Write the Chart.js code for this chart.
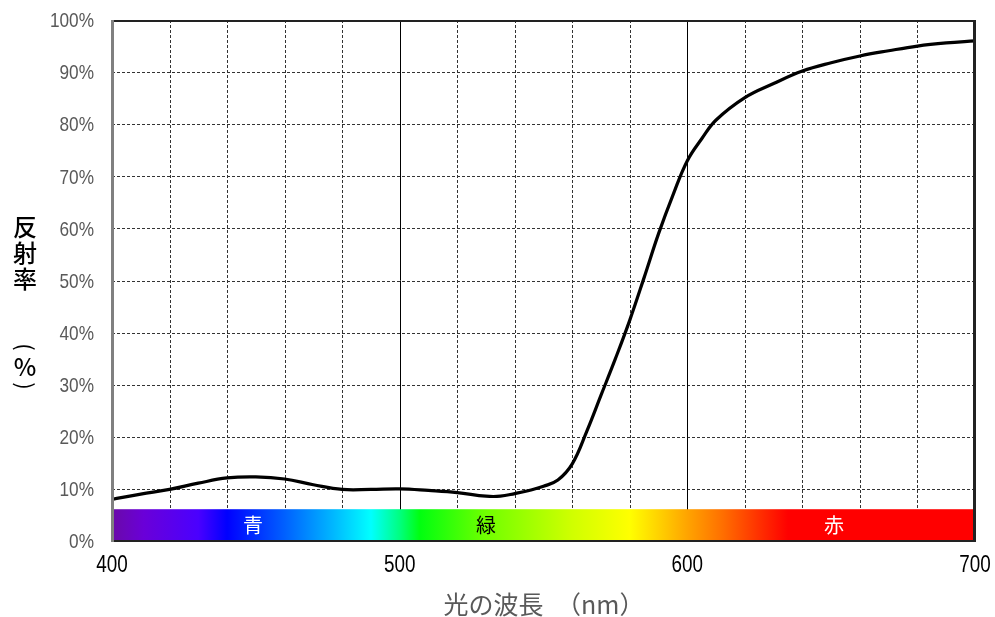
<!DOCTYPE html>
<html>
<head>
<meta charset="utf-8">
<script src="https://cdn.jsdelivr.net/npm/chart.js@4/dist/chart.umd.min.js"></script>
<style>
  html, body { margin: 0; padding: 0; background: #fff; }
</style>
</head>
<body>
<canvas id="chart" width="995" height="617"></canvas>
<script>
// 波長 (nm) と反射率 (%)
const wavelengths = [400, 410, 420, 430, 440, 450, 460, 470, 480, 490, 500, 510, 520, 530, 535, 540, 545, 550, 555, 560, 565, 570, 575, 580, 585, 590, 595, 600, 605, 610, 620, 630, 640, 650, 660, 670, 680, 690, 700];
const reflectance = [8.0, 9.0, 9.9, 11.1, 12.1, 12.3, 11.9, 10.8, 9.9, 9.9, 10.0, 9.7, 9.3, 8.6, 8.6, 9.1, 9.7, 10.5, 11.7, 14.8, 21.0, 28.0, 35.0, 42.4, 50.6, 59.0, 66.4, 73.0, 77.2, 80.8, 85.1, 87.8, 90.2, 91.8, 93.1, 94.1, 95.0, 95.6, 96.0];

const xTickLabels = [400, 500, 600, 700];
const yTickStep = 10;

// スペクトル帯
const bandNames = ['青', '緑', '赤'];
const bandCenters = [449, 530, 651];
const bandTextColors = ['#ffffff', '#000000', '#ffffff'];
const spectrumNm = [400, 411, 430, 440, 460, 477, 490, 500, 507, 530, 560, 580, 590, 600, 612, 625, 635, 700];
const spectrumColors = ['#6a0aa8', '#6a00d8', '#4a00ff', '#0000ff', '#0060ff', '#00b8ff', '#00ffff', '#00ff80', '#00ff10', '#70ff00', '#d0ff00', '#ffff00', '#ffd200', '#ffa400', '#ff7000', '#ff3000', '#ff0000', '#ff0000'];
const spectrumTop = 6.1;

const numFont = "'Liberation Sans', Arial, sans-serif";
const jpFont = "'Noto Sans CJK JP', 'Noto Sans', sans-serif";

// 幅を詰めた数字ラベル
function narrowText(ctx, text, px, py, align) {
  ctx.save();
  ctx.translate(px, py);
  ctx.scale(0.82, 1);
  ctx.textAlign = align;
  ctx.fillText(text, 0, 0);
  ctx.restore();
}

const decorPlugin = {
  id: 'decor',
  beforeDatasetsDraw(chart) {
    const { ctx, chartArea: a, scales: { x, y } } = chart;
    ctx.save();
    // 点線グリッド
    ctx.strokeStyle = '#333';
    ctx.lineWidth = 1;
    ctx.setLineDash([3, 2]);
    for (let v = 420; v < 700; v += 20) {
      if (v % 100 === 0) continue;
      const px = Math.round(x.getPixelForValue(v)) + 0.5;
      ctx.beginPath(); ctx.moveTo(px, a.top); ctx.lineTo(px, a.bottom); ctx.stroke();
    }
    for (let v = 10; v < 100; v += yTickStep) {
      const py = Math.round(y.getPixelForValue(v)) + 0.5;
      ctx.beginPath(); ctx.moveTo(a.left, py); ctx.lineTo(a.right, py); ctx.stroke();
    }
    ctx.setLineDash([]);
    ctx.strokeStyle = '#000';
    [500, 600].forEach(v => {
      const px = Math.round(x.getPixelForValue(v)) + 0.5;
      ctx.beginPath(); ctx.moveTo(px, a.top); ctx.lineTo(px, a.bottom); ctx.stroke();
    });

    // スペクトルの帯
    const x0 = x.getPixelForValue(400) + 2, x1 = x.getPixelForValue(700) - 2;
    const yTop = y.getPixelForValue(spectrumTop), yBot = y.getPixelForValue(0) - 1;
    const g = ctx.createLinearGradient(x.getPixelForValue(400), 0, x.getPixelForValue(700), 0);
    spectrumNm.forEach((nm, i) => g.addColorStop((nm - 400) / 300, spectrumColors[i]));
    ctx.fillStyle = g;
    ctx.fillRect(x0, yTop, x1 - x0, yBot - yTop);

    ctx.font = '20px ' + jpFont;
    ctx.textAlign = 'center';
    ctx.textBaseline = 'middle';
    bandNames.forEach((n, i) => {
      ctx.fillStyle = bandTextColors[i];
      ctx.fillText(n, x.getPixelForValue(bandCenters[i]), (yTop + yBot) / 2 + 1);
    });
    ctx.restore();
  },
  afterDraw(chart) {
    const { ctx, chartArea: a, scales: { x, y } } = chart;
    ctx.save();
    // 枠線
    ctx.lineWidth = 2;
    ctx.strokeStyle = '#222';
    ctx.beginPath(); ctx.moveTo(a.left, a.top + 1); ctx.lineTo(a.right, a.top + 1); ctx.stroke();
    ctx.beginPath(); ctx.moveTo(a.left, a.bottom); ctx.lineTo(a.right, a.bottom); ctx.stroke();
    ctx.lineWidth = 3;
    ctx.beginPath(); ctx.moveTo(a.right - 0.5, a.top); ctx.lineTo(a.right - 0.5, a.bottom + 1); ctx.stroke();
    ctx.strokeStyle = '#808080';
    ctx.beginPath(); ctx.moveTo(a.left + 0.5, a.top); ctx.lineTo(a.left + 0.5, a.bottom + 1); ctx.stroke();

    // 目盛りラベル
    ctx.textBaseline = 'middle';
    ctx.fillStyle = '#595959';
    ctx.font = '21px ' + numFont;
    y.ticks.forEach(t => narrowText(ctx, t.value + '%', a.left - 18, y.getPixelForValue(t.value) + 1.5, 'right'));
    ctx.fillStyle = '#000';
    ctx.font = '23px ' + numFont;
    x.ticks.forEach(t => narrowText(ctx, String(t.value), x.getPixelForValue(t.value), a.bottom + 25, 'center'));

    // 軸タイトル
    ctx.fillStyle = '#595959';
    ctx.font = '25px ' + jpFont;
    ctx.textAlign = 'center';
    ctx.fillText('光の波長　（nm）', 544, 604);

    ctx.fillStyle = '#000';
    ctx.font = '500 24px ' + jpFont;
    ['反', '射', '率'].forEach((ch, i) => ctx.fillText(ch, 25, 227 + i * 26));
    ctx.fillText('%', 25, 367);
    ctx.font = '22px ' + jpFont;
    [['(', 347], [')', 386]].forEach(([ch, py]) => {
      ctx.save();
      ctx.translate(25, py);
      ctx.rotate(Math.PI / 2);
      ctx.fillText(ch, 0, 0);
      ctx.restore();
    });
    ctx.restore();
  }
};

new Chart(document.getElementById('chart'), {
  type: 'line',
  data: {
    datasets: [{
      data: wavelengths.map((w, i) => ({ x: w, y: reflectance[i] })),
      borderColor: '#000',
      borderWidth: 3.2,
      pointRadius: 0,
      tension: 0.4,
      fill: false
    }]
  },
  options: {
    responsive: false,
    animation: false,
    layout: { padding: { left: 0, right: 20, top: 20, bottom: 0 } },
    plugins: { legend: { display: false }, tooltip: { enabled: false } },
    scales: {
      x: {
        type: 'linear',
        min: 400,
        max: 700,
        afterFit: s => { s.height = 76; },
        afterBuildTicks: s => { s.ticks = xTickLabels.map(v => ({ value: v })); },
        grid: { display: false, drawTicks: false },
        border: { display: false },
        ticks: { display: false }
      },
      y: {
        min: 0,
        max: 100,
        afterFit: s => { s.width = 112; },
        grid: { display: false, drawTicks: false },
        border: { display: false },
        ticks: { display: false, stepSize: yTickStep }
      }
    }
  },
  plugins: [decorPlugin]
});
</script>
</body>
</html>
